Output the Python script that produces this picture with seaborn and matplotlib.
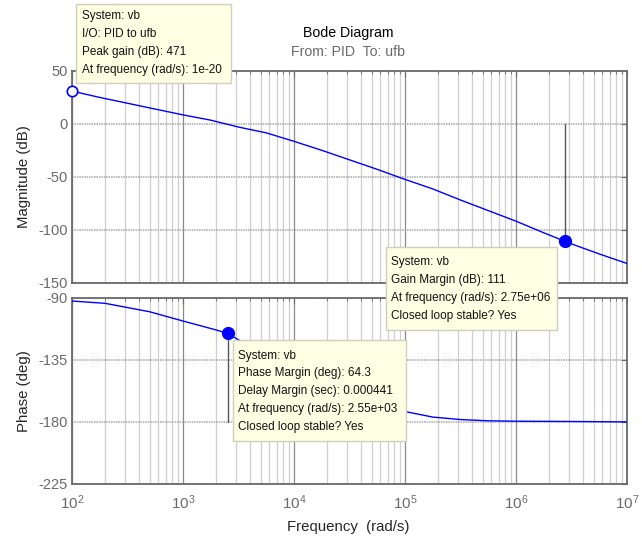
import numpy as np
import pandas as pd
import matplotlib
matplotlib.use("Agg")
import matplotlib.pyplot as plt
from matplotlib.ticker import LogLocator, LogFormatterSciNotation, NullFormatter
import seaborn as sns

# ---- data ----
mag_logw = [2.0, 2.25, 2.5, 2.75, 3.0, 3.25, 3.5, 3.75, 4.0, 4.25, 4.5,
            4.75, 5.0, 5.25, 5.5, 5.75, 6.0, 6.25, 6.5, 6.75, 7.0]
mag_db = [31, 25, 19.5, 14, 8.5, 3.5, -3, -8.5, -16.5, -25, -34,
          -43, -52.5, -61.5, -72, -82, -92, -103, -113.5, -123, -132]
ph_logw = [2.0, 2.3, 2.7, 3.0, 3.3, 3.4, 3.5, 3.75, 4.0, 4.25, 4.5,
           4.75, 5.0, 5.25, 5.5, 5.75, 6.0, 6.5, 7.0]
ph_deg = [-92.4, -94.1, -100.2, -106.9, -113.4, -115.8, -120.5, -131, -142, -152, -160,
          -167, -172.5, -176.5, -178.3, -179.2, -179.5, -179.7, -180]

peak_w, peak_db = 100, 31
gm_w, gm_db = 2.75e6, -111
pm_w, pm_deg = 2.55e3, -115.7

mag_ticks = [-150, -100, -50, 0, 50]
ph_ticks = [-225, -180, -135, -90]

box1 = ["System: vb", "I/O: PID to ufb", "Peak gain (dB): 471", "At frequency (rad/s): 1e-20"]
box2 = ["System: vb", "Gain Margin (dB): 111", "At frequency (rad/s): 2.75e+06", "Closed loop stable? Yes"]
box3 = ["System: vb", "Phase Margin (deg): 64.3", "Delay Margin (sec): 0.000441",
        "At frequency (rad/s): 2.55e+03", "Closed loop stable? Yes"]

mag_df = pd.DataFrame({"w": [10 ** v for v in mag_logw], "db": mag_db})
ph_df = pd.DataFrame({"w": [10 ** v for v in ph_logw], "deg": ph_deg})

sns.set_style("white")
plt.rcParams["font.family"] = ["Liberation Sans", "DejaVu Sans"]
plt.rcParams["mathtext.default"] = "regular"
plt.rcParams["axes.unicode_minus"] = False

W, H = 642, 539
fig = plt.figure(figsize=(W / 100, H / 100), dpi=100)

def rect(x0, y0, x1, y1):
    return [x0 / W, 1 - y1 / H, (x1 - x0) / W, (y1 - y0) / H]

ax1 = fig.add_axes(rect(72, 71, 627, 282.5))
ax2 = fig.add_axes(rect(72, 297.7, 627, 484))

blue = "#0000ff"
sns.lineplot(data=mag_df, x="w", y="db", ax=ax1, color=blue, lw=1.0, zorder=5)
sns.lineplot(data=ph_df, x="w", y="deg", ax=ax2, color=blue, lw=1.0, zorder=5)

for ax, lim, ticks in [(ax1, (-150, 50), mag_ticks), (ax2, (-225, -90), ph_ticks)]:
    ax.set_xscale("log")
    ax.set_xlim(1e2, 1e7)
    ax.set_ylim(*lim)
    ax.set_yticks(ticks)
    ax.xaxis.set_major_locator(LogLocator(base=10, numticks=10))
    ax.xaxis.set_minor_locator(LogLocator(base=10, subs=np.arange(2, 10), numticks=20))
    ax.xaxis.set_minor_formatter(NullFormatter())
    ax.grid(True, which="major", axis="x", color="#8a8a8a", lw=0.9, zorder=0)
    ax.grid(True, which="minor", axis="x", color="#cfcfcf", lw=0.9, zorder=0)
    ax.grid(True, which="major", axis="y", color="#a8a8a8", lw=1.1, ls=(0, (1, 0.6)), zorder=0)
    ax.tick_params(which="both", direction="in", top=True, right=True,
                   colors="#6a6a6a", labelsize=10.5, pad=3)
    ax.tick_params(which="major", length=4, width=0.8)
    ax.tick_params(which="minor", length=2.5, width=0.6)
    for sp in ax.spines.values():
        sp.set_color("#6a6a6a")
        sp.set_linewidth(1.3)
    ax.set_xlabel("")
    ax.set_ylabel("")

ax1.tick_params(axis="x", labelbottom=False)
ax2.xaxis.set_major_formatter(LogFormatterSciNotation())
ax2.tick_params(axis="x", labelsize=11, pad=7)

# guide lines
ax1.plot([gm_w, gm_w], [0, gm_db], color="#555555", lw=1.0, zorder=3)
ax2.plot([pm_w, pm_w], [-180, pm_deg], color="#555555", lw=1.0, zorder=3)

# markers
ax1.plot([peak_w], [peak_db], "o", ms=7.5, mfc="white", mec=blue, mew=1.2, clip_on=False, zorder=10)
ax1.plot([gm_w], [gm_db], "o", ms=8.5, color=blue, zorder=10)
ax2.plot([pm_w], [pm_deg], "o", ms=8.5, color=blue, zorder=10)

# annotation boxes (pixel coords)
def tipbox(x0, y0, x1, y1, lines, tx, ty0, dy=17.8):
    r = plt.Rectangle((x0 / W, 1 - y1 / H), (x1 - x0) / W, (y1 - y0) / H,
                      transform=fig.transFigure, facecolor="#ffffe4",
                      edgecolor="#cfcfc0", lw=1.0, zorder=20)
    fig.add_artist(r)
    for i, s in enumerate(lines):
        fig.text(tx / W, 1 - (ty0 + i * dy) / H, s, fontsize=8.5, color="#111111",
                 va="center", ha="left", zorder=21)

tipbox(76, 4, 231, 83, box1, 82, 16.5)
tipbox(385.5, 246.5, 557, 329.5, box2, 391, 262.5)
tipbox(232.5, 340, 405.5, 441, box3, 238.5, 355.5)

# titles and labels
fig.text(348 / W, 1 - 33 / H, "Bode Diagram", ha="center", va="center", fontsize=10.2, color="black")
fig.text(348 / W, 1 - 52 / H, "From: PID  To: ufb", ha="center", va="center", fontsize=10.2, color="#6a6a6a")
fig.text(24 / W, 1 - 177 / H, "Magnitude (dB)", rotation=90, ha="center", va="center", fontsize=10.8)
fig.text(24 / W, 1 - 391 / H, "Phase (deg)", rotation=90, ha="center", va="center", fontsize=10.8)
fig.text(348 / W, 1 - 527 / H, "Frequency  (rad/s)", ha="center", va="center", fontsize=10.8)

fig.savefig("out.png", dpi=100)
